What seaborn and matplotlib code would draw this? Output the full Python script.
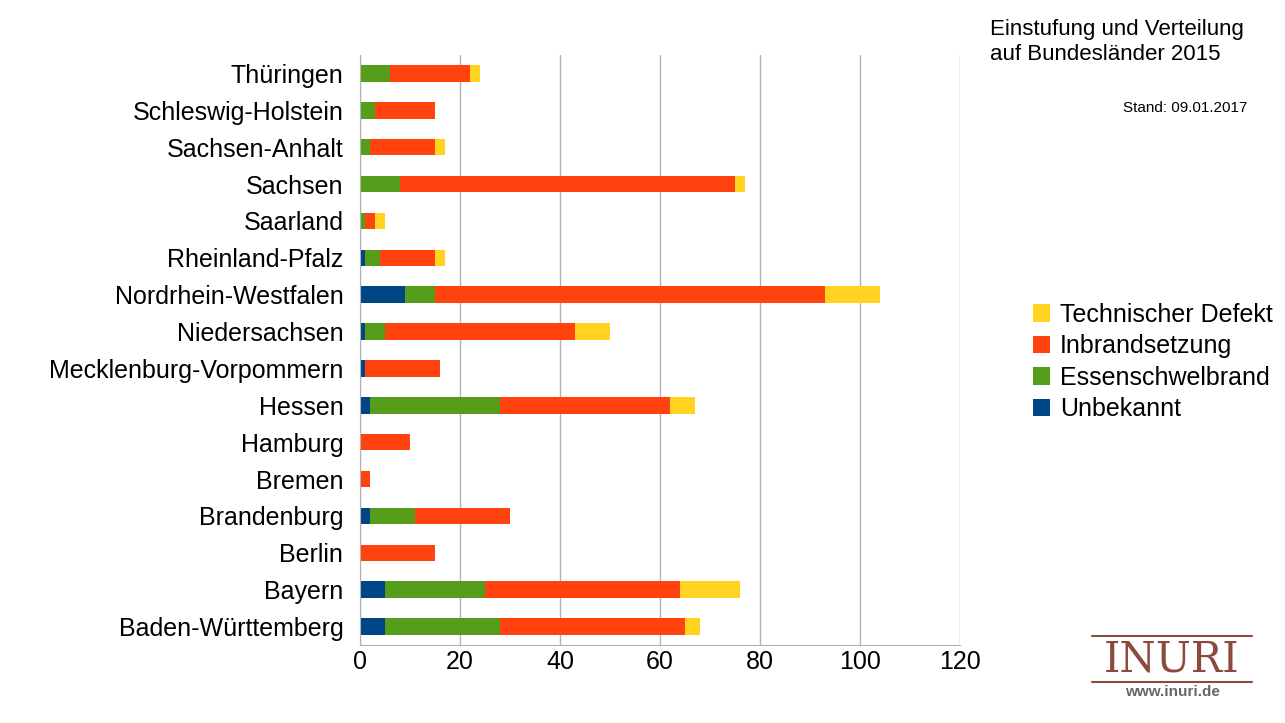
import matplotlib
matplotlib.use("Agg")
import matplotlib.pyplot as plt
import seaborn as sns
import numpy as np
import pandas as pd

states = ["Thüringen", "Schleswig-Holstein", "Sachsen-Anhalt", "Sachsen", "Saarland",
          "Rheinland-Pfalz", "Nordrhein-Westfalen", "Niedersachsen",
          "Mecklenburg-Vorpommern", "Hessen", "Hamburg", "Bremen", "Brandenburg",
          "Berlin", "Bayern", "Baden-Württemberg"]
unbekannt = [0, 0, 0, 0, 0, 1, 9, 1, 1, 2, 0, 0, 2, 0, 5, 5]
essenschwel = [6, 3, 2, 8, 1, 3, 6, 4, 0, 26, 0, 0, 9, 0, 20, 23]
inbrand = [16, 12, 13, 67, 2, 11, 78, 38, 15, 34, 10, 2, 19, 15, 39, 37]
technisch = [2, 0, 2, 2, 2, 2, 11, 7, 0, 5, 0, 0, 0, 0, 12, 3]

colors = {"Technischer Defekt": "#FFD320", "Inbrandsetzung": "#FF420E",
          "Essenschwelbrand": "#579D1C", "Unbekannt": "#004586"}

sns.set_style("white")
plt.rcParams["font.family"] = ["Liberation Sans", "DejaVu Sans"]
plt.rcParams["text.color"] = "black"

u = np.array(unbekannt)
e = u + np.array(essenschwel)
i = e + np.array(inbrand)
t = i + np.array(technisch)
df = pd.DataFrame({"state": states, "U": u, "E": e, "I": i, "T": t})

fig = plt.figure(figsize=(12.85, 7.23), dpi=100)
ax = fig.add_axes([360 / 1285, 78 / 723, 600 / 1285, 590 / 723])

layers = [("T", "Technischer Defekt"), ("I", "Inbrandsetzung"),
          ("E", "Essenschwelbrand"), ("U", "Unbekannt")]
for col, name in layers:
    sns.barplot(data=df, x=col, y="state", orient="h", color=colors[name],
                width=0.45, ax=ax, label=name, edgecolor="none", saturation=1)

ax.set_xlim(0, 120)
ax.set_xticks(range(0, 121, 20))
ax.set_xlabel("")
ax.set_ylabel("")
ax.xaxis.grid(True, color="#b3b3b3", linewidth=1)
ax.set_axisbelow(True)
for s in ["top", "right"]:
    ax.spines[s].set_visible(False)
ax.spines["left"].set_color("#b3b3b3")
ax.spines["bottom"].set_color("#b3b3b3")
ax.tick_params(axis="both", labelsize=18, length=0, labelcolor="black")
ax.tick_params(axis="y", pad=12)

handles, labels = ax.get_legend_handles_labels()
leg = ax.legend(handles, labels, loc="center left",
                bbox_to_anchor=(1020 / 1285, 1 - 362 / 723),
                bbox_transform=fig.transFigure,
                frameon=False, fontsize=18, handlelength=0.7, handleheight=0.7,
                handletextpad=0.4, labelspacing=0.3, borderpad=0)
for txt in leg.get_texts():
    txt.set_color("black")

fig.text(990 / 1285, 1 - 42 / 723, "Einstufung und Verteilung\nauf Bundesländer 2015",
         fontsize=16, va="center", ha="left", linespacing=1.2, color="black")
fig.text(1247 / 1285, 1 - 108 / 723, "Stand: 09.01.2017", fontsize=11, ha="right",
         va="center", color="black")
fig.text(1172 / 1285, 1 - 660 / 723, "INURI", fontsize=30, color="#8B4A3C",
         ha="center", va="center", family="DejaVu Serif")
fig.lines.append(plt.Line2D([1092 / 1285, 1252 / 1285], [1 - 636 / 723] * 2,
                            color="#8B4A3C", transform=fig.transFigure))
fig.lines.append(plt.Line2D([1092 / 1285, 1252 / 1285], [1 - 682 / 723] * 2,
                            color="#8B4A3C", transform=fig.transFigure))
fig.text(1172 / 1285, 1 - 692 / 723, "www.inuri.de", fontsize=11, color="#666666",
         ha="center", va="center", fontweight="bold")

fig.savefig("out.png", dpi=100)
